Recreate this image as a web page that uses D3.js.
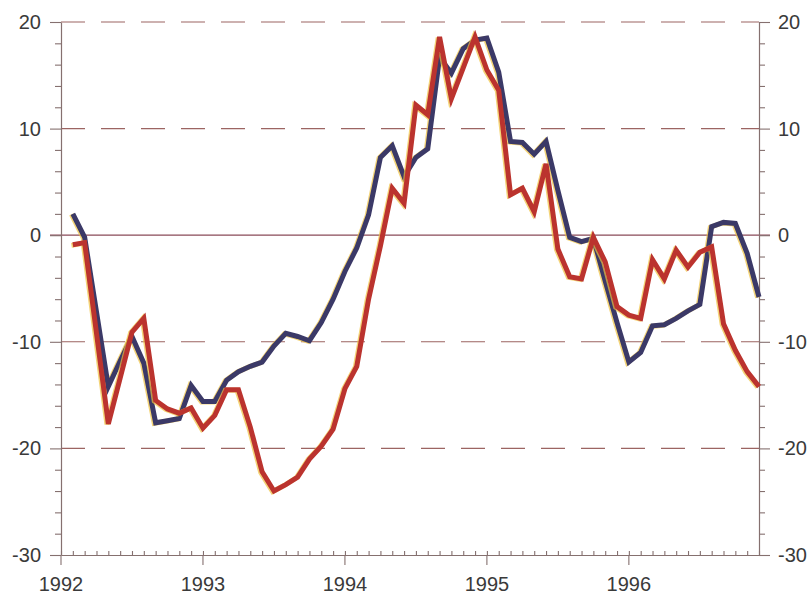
<!DOCTYPE html>
<html>
<head>
<meta charset="utf-8">
<script src="https://cdn.jsdelivr.net/npm/d3@7"></script>
<style>
    body { margin: 0; background: #ffffff; }
    svg { display: block; }
    .tick-label { font-family: Arial, "Liberation Sans", sans-serif; font-size: 20px; fill: #3a3a3a; }
</style>
</head>
<body>
<div id="chart"></div>
<script>

// Monthly series, Feb 1992 .. Dec 1996 (first value is Feb 1992)
let firstMonth = 1;   // month index, 0 = Jan 1992
let lastMonth = 59;   // Dec 1996

let blueSeries = [
    2.0, -0.2, -7.2, -14.2, -11.8, -9.5, -12.0, -17.6, -17.4, -17.2, -14.1,
    -15.6, -15.6, -13.6, -12.8, -12.3, -11.9, -10.4, -9.2, -9.5, -9.9, -8.2, -6.0,
    -3.4, -1.2, 1.9, 7.3, 8.4, 5.5, 7.3, 8.1, 16.7, 15.2, 17.5, 18.3,
    18.5, 15.3, 8.8, 8.7, 7.6, 8.8, 4.2, -0.2, -0.6, -0.3, -4.3, -8.2,
    -11.9, -11.0, -8.5, -8.4, -7.8, -7.1, -6.5, 0.8, 1.2, 1.1, -1.7, -5.8
];

let redSeries = [
    -0.9, -0.7, -9.2, -17.7, -13.4, -9.1, -7.8, -15.5, -16.3, -16.7, -16.2,
    -18.1, -16.9, -14.5, -14.5, -18.0, -22.2, -24.0, -23.4, -22.7, -21.0, -19.8, -18.2,
    -14.4, -12.3, -6.0, -1.0, 4.4, 3.0, 12.2, 11.3, 18.6, 12.8, 15.7, 18.6,
    15.5, 13.6, 3.8, 4.4, 2.2, 6.7, -1.3, -3.9, -4.1, -0.2, -2.5, -6.7,
    -7.5, -7.8, -2.3, -4.1, -1.4, -3.0, -1.6, -1.1, -8.3, -10.8, -12.8, -14.2
];

let yearLabels = ["1992", "1993", "1994", "1995", "1996"];
let yTicks = [-30, -20, -10, 0, 10, 20];
let gridValues = [-20, -10, 10, 20];

let blueColor = "#3b3967";
let redColor = "#bb332e";
let fringeColor = "#efc23f";
let axisColor = "#85706f";
let gridColor = "#9c6462";

let width = 811, height = 594;
let margin = {top: 22, right: 52, bottom: 39, left: 61};

let svg = d3.select("#chart").append("svg")
    .attr("width", width)
    .attr("height", height);

// scales
let x = d3.scaleLinear()
    .domain([0, lastMonth])
    .range([margin.left, width - margin.right]);

let y = d3.scaleLinear()
    .domain([-30, 20])
    .range([height - margin.bottom, margin.top]);

let x0 = x.range()[0], x1 = x.range()[1];
let yBottom = y(-30);

// dashed gridlines
svg.append("g")
    .selectAll("line")
    .data(gridValues)
    .enter().append("line")
    .attr("x1", x0)
    .attr("x2", x1)
    .attr("y1", d => y(d))
    .attr("y2", d => y(d))
    .attr("stroke", gridColor)
    .attr("stroke-width", 1.1)
    .attr("stroke-dasharray", "24,16");

// zero line
svg.append("line")
    .attr("x1", x0 - 11)
    .attr("x2", x1 + 11)
    .attr("y1", y(0))
    .attr("y2", y(0))
    .attr("stroke", "#8a4a58")
    .attr("stroke-width", 1.2);

// left axis: major ticks every 10, minor every 2
let leftAxis = d3.axisLeft(y)
    .tickValues(d3.range(-30, 21, 2))
    .tickSizeInner(6)
    .tickSizeOuter(0)
    .tickFormat("");

let gLeft = svg.append("g")
    .attr("transform", `translate(${x0},0)`)
    .call(leftAxis);

let rightAxis = d3.axisRight(y)
    .tickValues(d3.range(-30, 21, 2))
    .tickSizeInner(6)
    .tickSizeOuter(0)
    .tickFormat("");

let gRight = svg.append("g")
    .attr("transform", `translate(${x1},0)`)
    .call(rightAxis);

// bottom axis: monthly minor ticks pointing up, yearly ticks pointing down
let bottomAxis = d3.axisTop(x)
    .tickValues(d3.range(0, lastMonth + 1))
    .tickSizeInner(4)
    .tickSizeOuter(0)
    .tickFormat("");

let gBottom = svg.append("g")
    .attr("transform", `translate(0,${yBottom})`)
    .call(bottomAxis);

[gLeft, gRight, gBottom].forEach(g => {
    g.select(".domain").attr("stroke", axisColor).attr("stroke-width", 1.2);
    g.selectAll(".tick line").attr("stroke", axisColor).attr("stroke-width", 1.1);
});

// longer major ticks
gLeft.selectAll(".tick line").filter(d => d % 10 === 0).attr("x2", -11);
gRight.selectAll(".tick line").filter(d => d % 10 === 0).attr("x2", 11);

svg.append("g")
    .selectAll("line")
    .data(yearLabels)
    .enter().append("line")
    .attr("x1", (d, i) => x(i * 12))
    .attr("x2", (d, i) => x(i * 12))
    .attr("y1", yBottom)
    .attr("y2", yBottom + 10)
    .attr("stroke", axisColor)
    .attr("stroke-width", 1.1);

// tick labels
svg.append("g")
    .selectAll("text")
    .data(yTicks)
    .enter().append("text")
    .attr("class", "tick-label")
    .attr("x", x0 - 20)
    .attr("y", d => y(d))
    .attr("dy", "0.35em")
    .attr("text-anchor", "end")
    .text(d => d);

svg.append("g")
    .selectAll("text")
    .data(yTicks)
    .enter().append("text")
    .attr("class", "tick-label")
    .attr("x", x1 + 19)
    .attr("y", d => y(d))
    .attr("dy", "0.35em")
    .attr("text-anchor", "start")
    .text(d => d);

svg.append("g")
    .selectAll("text")
    .data(yearLabels)
    .enter().append("text")
    .attr("class", "tick-label")
    .attr("x", (d, i) => x(i * 12))
    .attr("y", yBottom + 36)
    .attr("text-anchor", "middle")
    .text(d => d);

// lines
let line = d3.line()
    .x((d, i) => x(firstMonth + i))
    .y(d => y(d));

function drawSeries(values, color) {
    // faint yellow fringe like the printed original
    svg.append("path")
        .datum(values)
        .attr("fill", "none")
        .attr("stroke", fringeColor)
        .attr("stroke-width", 5)
        .attr("opacity", 0.7)
        .attr("transform", "translate(-1.4,0.6)")
        .attr("d", line);

    svg.append("path")
        .datum(values)
        .attr("fill", "none")
        .attr("stroke", color)
        .attr("stroke-width", 5)
        .attr("stroke-linejoin", "miter")
        .attr("d", line);
}

drawSeries(blueSeries, blueColor);
drawSeries(redSeries, redColor);

</script>
</body>
</html>
